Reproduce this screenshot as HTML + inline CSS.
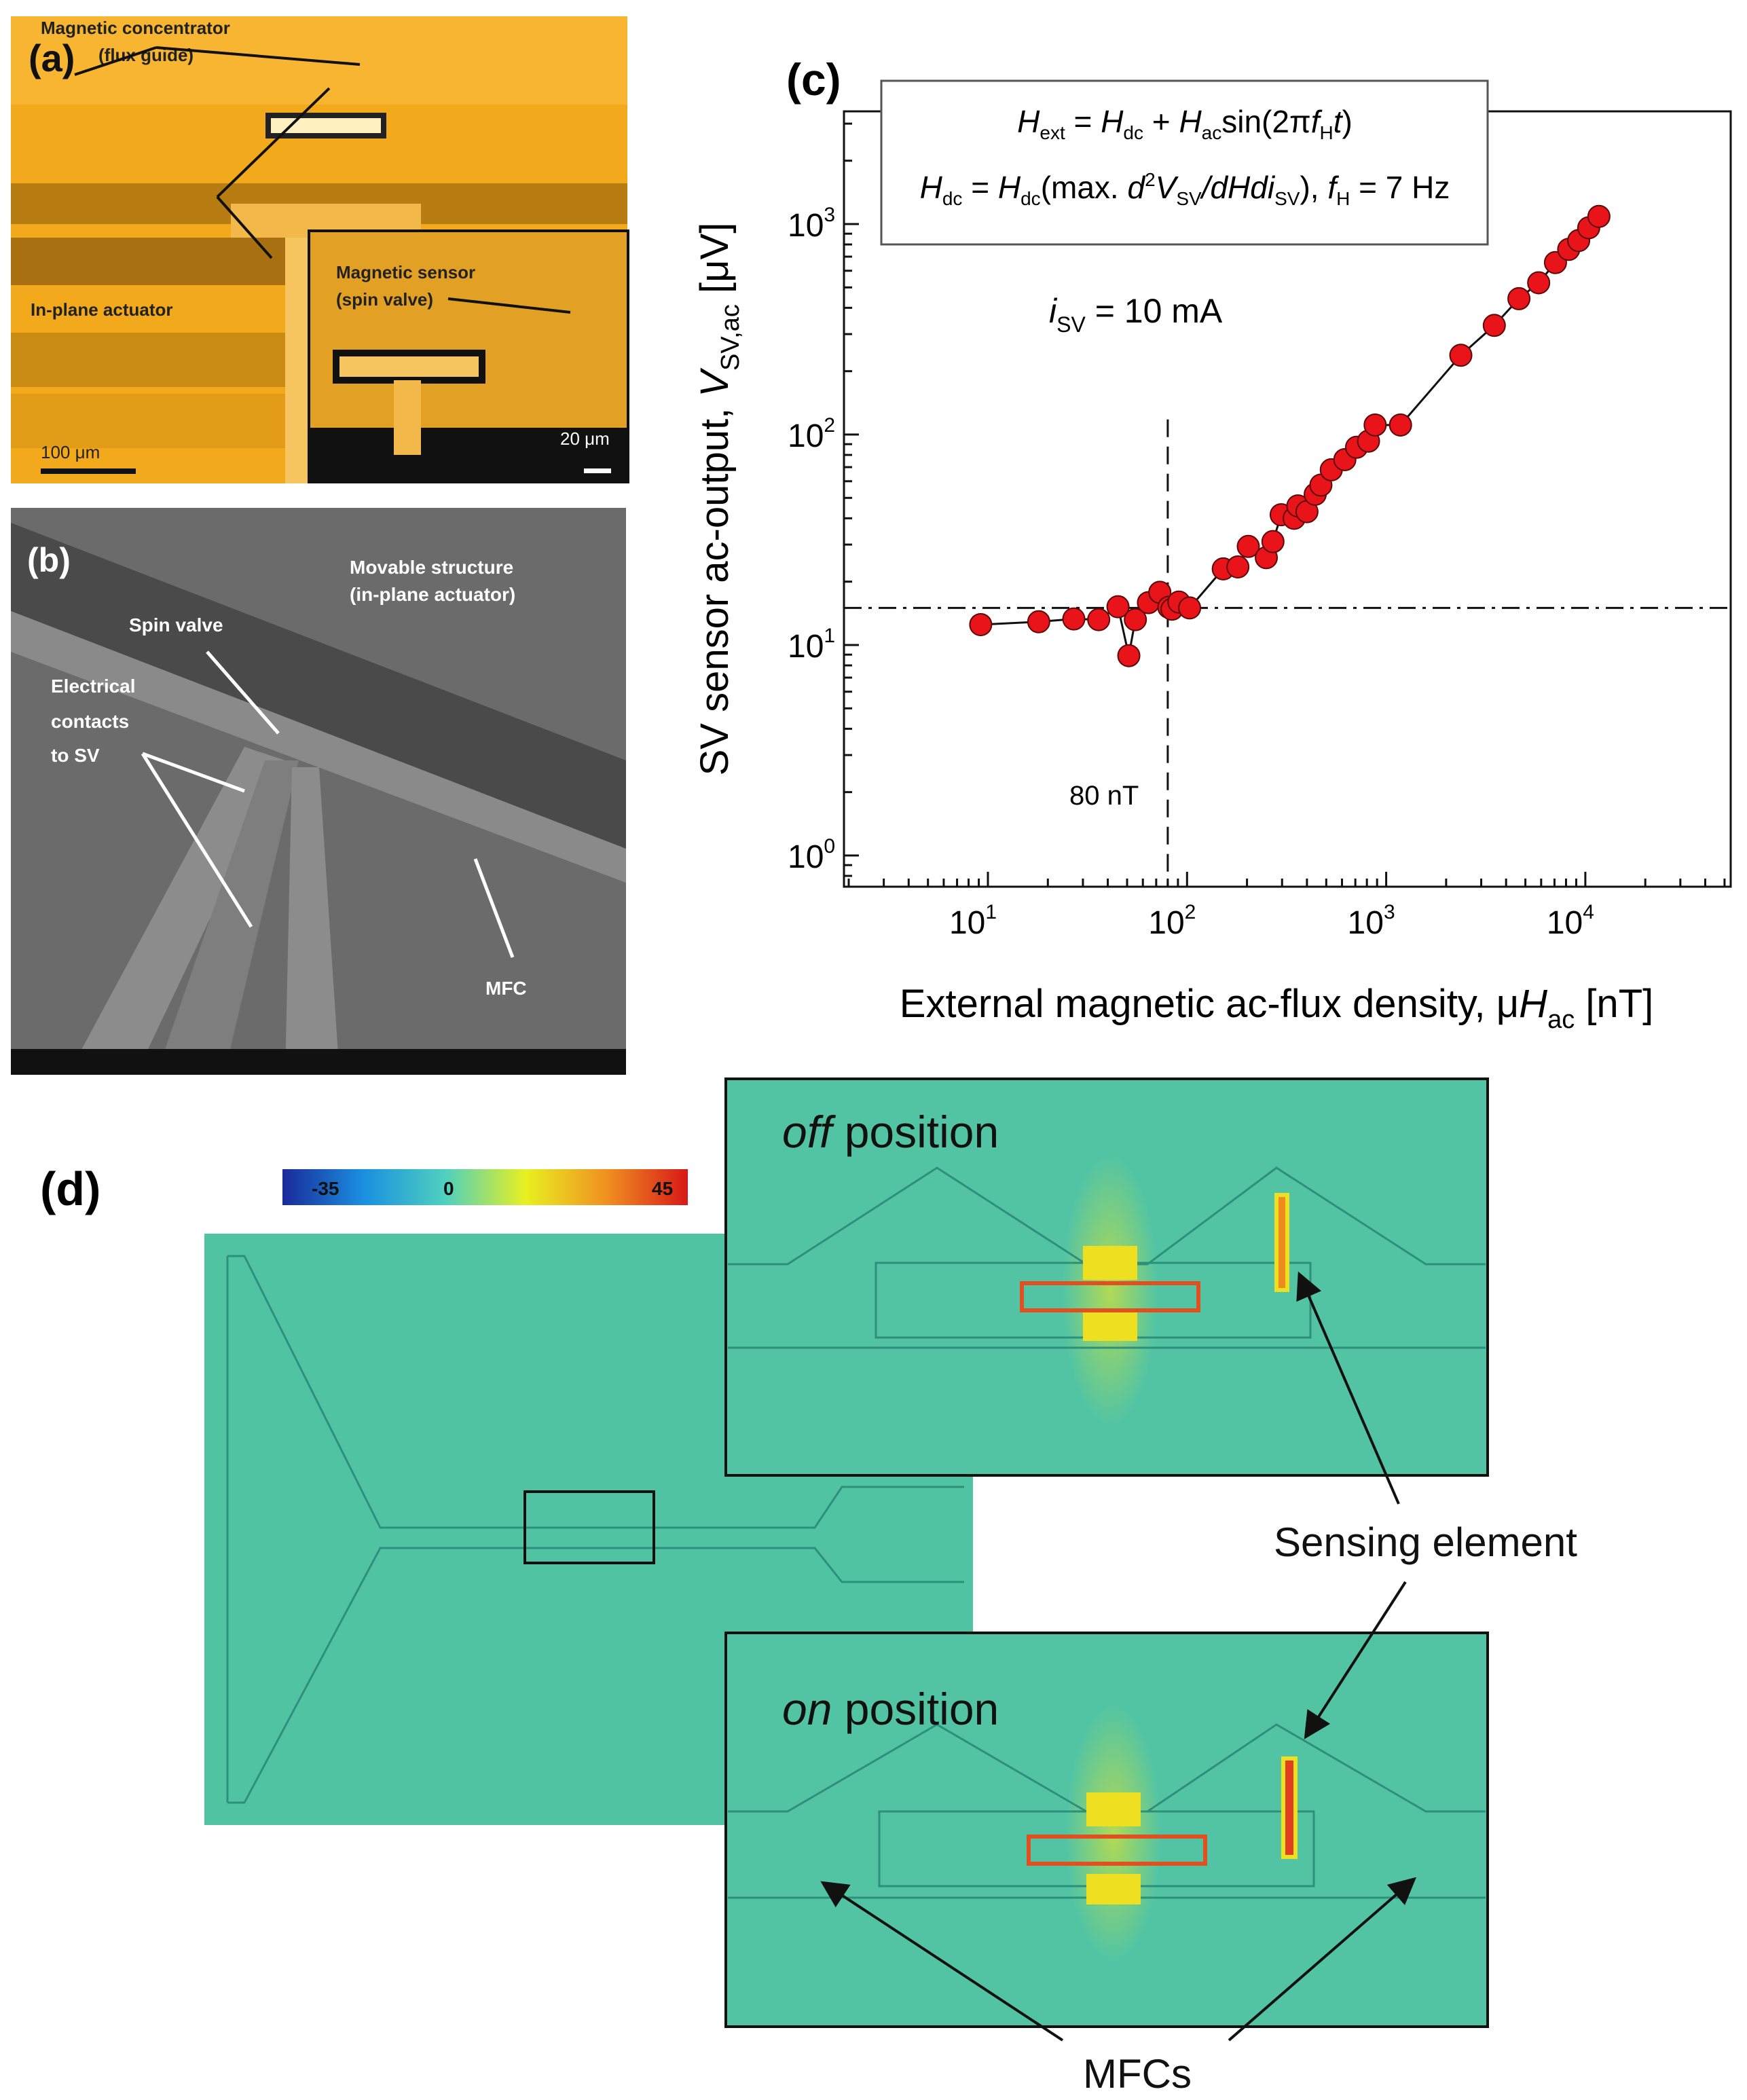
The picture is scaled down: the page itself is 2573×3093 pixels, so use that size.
<!DOCTYPE html>
<html><head><meta charset="utf-8"><style>
html,body{margin:0;padding:0;background:#fff}
svg{display:block}
text{font-family:"Liberation Sans",sans-serif}
</style></head><body>
<svg id="fig" width="2573" height="3093" viewBox="0 0 2573 3093" xmlns="http://www.w3.org/2000/svg">
<g>
<rect x="16" y="24" width="908" height="688" fill="#f2a91c"/>
<rect x="16" y="24" width="908" height="130" fill="#f7b531"/>
<rect x="16" y="270" width="908" height="60" fill="#b87d12"/>
<rect x="16" y="350" width="908" height="70" fill="#a87010"/>
<rect x="16" y="490" width="420" height="80" fill="#c98b14"/>
<rect x="16" y="580" width="420" height="80" fill="#e39c17"/>
<rect x="395" y="170" width="170" height="30" fill="#fff2c0" stroke="#222" stroke-width="8"/>
<rect x="420" y="300" width="40" height="412" fill="#f6c560"/>
<rect x="340" y="300" width="280" height="50" fill="#f3b84a"/>
<rect x="455" y="340" width="470" height="370" fill="#e2a024" stroke="#111" stroke-width="4"/>
<rect x="455" y="630" width="470" height="80" fill="#111"/>
<rect x="495" y="520" width="215" height="40" fill="#f6c560" stroke="#111" stroke-width="10"/>
<rect x="580" y="560" width="40" height="110" fill="#f3b84a"/>
<rect x="60" y="690" width="140" height="8" fill="#111"/>
<rect x="860" y="690" width="40" height="7" fill="#fff"/>
<text x="42" y="105" font-size="56" font-weight="bold" fill="#111">(a)</text>
<text x="60" y="50" font-size="26" font-weight="bold" fill="#222">Magnetic concentrator</text>
<text x="145" y="90" font-size="26" font-weight="bold" fill="#222">(flux guide)</text>
<text x="45" y="465" font-size="26" font-weight="bold" fill="#222">In-plane actuator</text>
<text x="495" y="410" font-size="26" font-weight="bold" fill="#222">Magnetic sensor</text>
<text x="495" y="450" font-size="26" font-weight="bold" fill="#222">(spin valve)</text>
<text x="60" y="675" font-size="26" fill="#222">100 μm</text>
<text x="825" y="655" font-size="26" fill="#fff">20 μm</text>
<g stroke="#111" stroke-width="4" fill="none"><line x1="230" y1="70" x2="110" y2="110"/><line x1="230" y1="70" x2="530" y2="95"/><line x1="320" y1="290" x2="485" y2="130"/><line x1="320" y1="290" x2="400" y2="380"/><line x1="660" y1="440" x2="840" y2="460"/></g>
</g>
<g>
<rect x="16" y="748" width="906" height="835" fill="#6b6b6b"/>
<polygon points="16,770 922,1120 922,1250 16,900" fill="#4a4a4a"/>
<polygon points="16,900 922,1250 922,1300 16,960" fill="#8a8a8a"/>
<polygon points="100,1583 360,1100 420,1120 200,1583" fill="#8c8c8c"/>
<polygon points="230,1583 390,1120 440,1120 330,1583" fill="#7e7e7e"/>
<polygon points="420,1583 430,1130 470,1130 500,1583" fill="#8c8c8c"/>
<rect x="16" y="1545" width="906" height="38" fill="#111"/>
<text x="40" y="842" font-size="50" font-weight="bold" fill="#fff">(b)</text>
<text x="515" y="845" font-size="28" font-weight="bold" fill="#fff">Movable structure</text>
<text x="515" y="885" font-size="28" font-weight="bold" fill="#fff">(in-plane actuator)</text>
<text x="190" y="930" font-size="28" font-weight="bold" fill="#fff">Spin valve</text>
<text x="75" y="1020" font-size="28" font-weight="bold" fill="#fff">Electrical</text>
<text x="75" y="1072" font-size="28" font-weight="bold" fill="#fff">contacts</text>
<text x="75" y="1122" font-size="28" font-weight="bold" fill="#fff">to SV</text>
<text x="715" y="1465" font-size="28" font-weight="bold" fill="#fff">MFC</text>
<g stroke="#fff" stroke-width="5"><line x1="305" y1="960" x2="410" y2="1080"/><line x1="210" y1="1110" x2="360" y2="1165"/><line x1="210" y1="1110" x2="370" y2="1365"/><line x1="755" y1="1410" x2="700" y2="1265"/></g>
</g>
<g id="chart">
<rect x="1243" y="164" width="1306" height="1142" fill="none" stroke="#111" stroke-width="3"/>
<g id="ticks"></g>
<g id="refs"></g>
<g id="series"></g>
<rect x="1298" y="119" width="893" height="241" fill="#fff" stroke="#555" stroke-width="3"/>
<text x="1745" y="195" font-size="46" text-anchor="middle"><tspan font-style="italic">H</tspan><tspan font-size="28" dy="10">ext</tspan><tspan dy="-10"> = </tspan><tspan font-style="italic">H</tspan><tspan font-size="28" dy="10">dc</tspan><tspan dy="-10"> + </tspan><tspan font-style="italic">H</tspan><tspan font-size="28" dy="10">ac</tspan><tspan dy="-10">sin(2π</tspan><tspan font-style="italic">f</tspan><tspan font-size="28" dy="10">H</tspan><tspan dy="-10" font-style="italic">t</tspan>)</text>
<text x="1745" y="292" font-size="46" text-anchor="middle"><tspan font-style="italic">H</tspan><tspan font-size="28" dy="10">dc</tspan><tspan dy="-10"> = </tspan><tspan font-style="italic">H</tspan><tspan font-size="28" dy="10">dc</tspan><tspan dy="-10">(max. </tspan><tspan font-style="italic">d</tspan><tspan font-size="28" dy="-18">2</tspan><tspan dy="18" font-style="italic">V</tspan><tspan font-size="28" dy="10">SV</tspan><tspan dy="-10" font-style="italic">/dHdi</tspan><tspan font-size="28" dy="10">SV</tspan><tspan dy="-10">), </tspan><tspan font-style="italic">f</tspan><tspan font-size="28" dy="10">H</tspan><tspan dy="-10"> = 7 Hz</tspan></text>
<text x="1545" y="475" font-size="50"><tspan font-style="italic">i</tspan><tspan font-size="32" dy="14">SV</tspan><tspan dy="-14"> = 10 mA</tspan></text>
<text x="1575" y="1185" font-size="40">80 nT</text>
<text x="1158" y="140" font-size="66" font-weight="bold">(c)</text>
<text transform="translate(1072,735) rotate(-90)" font-size="58" text-anchor="middle">SV sensor ac-output, <tspan font-style="italic">V</tspan><tspan font-size="38" dy="16">SV,ac</tspan><tspan dy="-16"> [μV]</tspan></text>
<text x="1880" y="1498" font-size="58" text-anchor="middle">External magnetic ac-flux density, μ<tspan font-style="italic">H</tspan><tspan font-size="38" dy="16">ac</tspan><tspan dy="-16"> [nT]</tspan></text>
</g>
<g>
<text x="59" y="1775" font-size="70" font-weight="bold">(d)</text>
<defs><linearGradient id="cb" x1="0" x2="1"><stop offset="0" stop-color="#1a2a9a"/><stop offset="0.2" stop-color="#1a8fe0"/><stop offset="0.4" stop-color="#4ed0c0"/><stop offset="0.6" stop-color="#e8f020"/><stop offset="0.8" stop-color="#f09020"/><stop offset="1" stop-color="#d81818"/></linearGradient>
<radialGradient id="glow"><stop offset="0" stop-color="#f0e820"/><stop offset="1" stop-color="#f0e820" stop-opacity="0"/></radialGradient></defs>
<rect x="416" y="1722" width="597" height="53" fill="url(#cb)"/>
<text x="459" y="1760" font-size="28" font-weight="bold" fill="#111">-35</text>
<text x="653" y="1760" font-size="28" font-weight="bold" fill="#111">0</text>
<text x="960" y="1760" font-size="28" font-weight="bold" fill="#111">45</text>
<rect x="301" y="1817" width="1132" height="871" fill="#50c3a3"/>
<polyline points="335,1850 360,1850 560,2250 1200,2250 1240,2190 1420,2190" fill="none" stroke="#2e8f7a" stroke-width="3"/>
<polyline points="335,2655 360,2655 560,2280 1200,2280 1240,2330 1420,2330" fill="none" stroke="#2e8f7a" stroke-width="3"/>
<line x1="335" y1="1850" x2="335" y2="2655" stroke="#2e8f7a" stroke-width="3"/>
<rect x="773" y="2197" width="190" height="105" fill="none" stroke="#111" stroke-width="4"/>
<g>
<rect x="1069" y="1589" width="1122" height="584" fill="#52c4a4" stroke="#111" stroke-width="4"/>
<ellipse cx="1635" cy="1900" rx="70" ry="200" fill="url(#glow)" opacity="0.6"/>
<polyline points="1072,1862 1160,1862 1380,1720 1600,1862 1690,1862 1880,1720 2100,1862 2188,1862" fill="none" stroke="#2e8f7a" stroke-width="3"/>
<rect x="1290" y="1860" width="640" height="110" fill="none" stroke="#2e8f7a" stroke-width="3"/>
<line x1="1072" y1="1985" x2="2188" y2="1985" stroke="#2e8f7a" stroke-width="3"/>
<rect x="1595" y="1835" width="80" height="50" fill="#eee020"/>
<rect x="1595" y="1930" width="80" height="45" fill="#eee020"/>
<rect x="1505" y="1890" width="260" height="40" fill="none" stroke="#e05020" stroke-width="6"/>
<rect x="1880" y="1760" width="16" height="140" fill="#f08a20" stroke="#eee020" stroke-width="6"/>
<text x="1152" y="1690" font-size="66" fill="#111"><tspan font-style="italic">off</tspan> position</text>
</g>
<g>
<rect x="1069" y="2405" width="1122" height="580" fill="#52c4a4" stroke="#111" stroke-width="4"/>
<ellipse cx="1640" cy="2700" rx="70" ry="190" fill="url(#glow)" opacity="0.6"/>
<polyline points="1072,2668 1160,2668 1380,2540 1600,2668 1690,2668 1880,2540 2100,2668 2188,2668" fill="none" stroke="#2e8f7a" stroke-width="3"/>
<rect x="1295" y="2668" width="640" height="110" fill="none" stroke="#2e8f7a" stroke-width="3"/>
<line x1="1072" y1="2795" x2="2188" y2="2795" stroke="#2e8f7a" stroke-width="3"/>
<rect x="1600" y="2640" width="80" height="50" fill="#eee020"/>
<rect x="1600" y="2760" width="80" height="45" fill="#eee020"/>
<rect x="1515" y="2705" width="260" height="40" fill="none" stroke="#e05020" stroke-width="6"/>
<rect x="1890" y="2590" width="18" height="145" fill="#e04020" stroke="#eee020" stroke-width="6"/>
<text x="1152" y="2540" font-size="66" fill="#111"><tspan font-style="italic">on</tspan> position</text>
</g>
<text x="1876" y="2292" font-size="60" fill="#111">Sensing element</text>
<text x="1595" y="3075" font-size="60" fill="#111">MFCs</text>
<defs><marker id="ah" markerWidth="10" markerHeight="10" refX="8" refY="5" orient="auto"><path d="M0,0 L10,5 L0,10 z" fill="#111"/></marker></defs>
<g stroke="#111" stroke-width="4" marker-end="url(#ah)" fill="none">
<line x1="2060" y1="2215" x2="1915" y2="1880"/>
<line x1="2070" y1="2330" x2="1925" y2="2555"/>
<line x1="1565" y1="3005" x2="1215" y2="2775"/>
<line x1="1810" y1="3005" x2="2080" y2="2770"/>
</g>
</g>
</svg>
<script>
const xValues=[9.2,18,27,36,45,51,55,64,73,81,84,91,103,152,180,203,250,270,297,345,360,400,440,470,530,620,710,815,880,1180,2370,3490,4640,5830,7080,8250,9260,10400,11700];
const yValues=[12.5,12.9,13.3,13.2,15.2,8.9,13.2,15.9,17.8,15.1,14.8,16,15,23,23.5,29.4,26,31,41.6,40,45.8,43,52,57.5,68,76,87,93,111,111,238,330,442,526,656,758,835,960,1087];
const xTickLabels=["1","2","3","4"];
const yTickLabels=["0","1","2","3"];
const thresholdX=[80];
const noiseLevel=[15];
const NS="http://www.w3.org/2000/svg";
const L=1243,R=2549,T=164,B=1306;
function sx(v){return 1455+(Math.log10(v)-1)*293.3;}
function sy(v){return 950-(Math.log10(v)-1)*310;}
function mk(tag,attrs,parent){const e=document.createElementNS(NS,tag);for(const k in attrs)e.setAttribute(k,attrs[k]);parent.appendChild(e);return e;}
const tickG=document.getElementById('ticks');
for(let d=0;d<=4;d++){for(let m=1;m<=9;m++){const v=m*Math.pow(10,d);const x=sx(v);if(x<L||x>R)continue;const l=mk('line',{x1:x,x2:x,y1:B,y2:B-(m===1?22:12),stroke:'#111','stroke-width':3},tickG);

}}
for(let d=-1;d<=3;d++){for(let m=1;m<=9;m++){const v=m*Math.pow(10,d);const y=sy(v);if(y<T||y>B)continue;const l=mk('line',{x1:L,x2:L+(m===1?22:12),y1:y,y2:y,stroke:'#111','stroke-width':3},tickG);

}}
xTickLabels.forEach(p=>{const x=sx(Math.pow(10,+p));const t=mk('text',{x:x-22,y:1375,'font-size':48,'text-anchor':'middle'},tickG);t.textContent='10';const s=mk('tspan',{dy:-22,'font-size':30},t);s.textContent=p;

});
yTickLabels.forEach(p=>{const y=sy(Math.pow(10,+p));const t=mk('text',{x:1160,y:y+18,'font-size':48},tickG);t.textContent='10';const s=mk('tspan',{dy:-22,'font-size':30},t);s.textContent=p;

});
const refG=document.getElementById('refs');
const vl=mk('line',{x1:sx(thresholdX[0]),x2:sx(thresholdX[0]),y1:sy(118),y2:B,stroke:'#111','stroke-width':3,'stroke-dasharray':'26,14'},refG);


const hl=mk('line',{x1:L,x2:R,y1:sy(noiseLevel[0]),y2:sy(noiseLevel[0]),stroke:'#111','stroke-width':3,'stroke-dasharray':'26,10,5,10'},refG);


const ser=document.getElementById('series');
const pl=mk('polyline',{points:xValues.map((x,i)=>sx(x)+','+sy(yValues[i])).join(' '),fill:'none',stroke:'#111','stroke-width':3},ser);


xValues.forEach((x,i)=>{const c=mk('circle',{cx:sx(x),cy:sy(yValues[i]),r:16,fill:'#e8141a',stroke:'#5a0a0a','stroke-width':2},ser);

});
</script>
</body></html>
